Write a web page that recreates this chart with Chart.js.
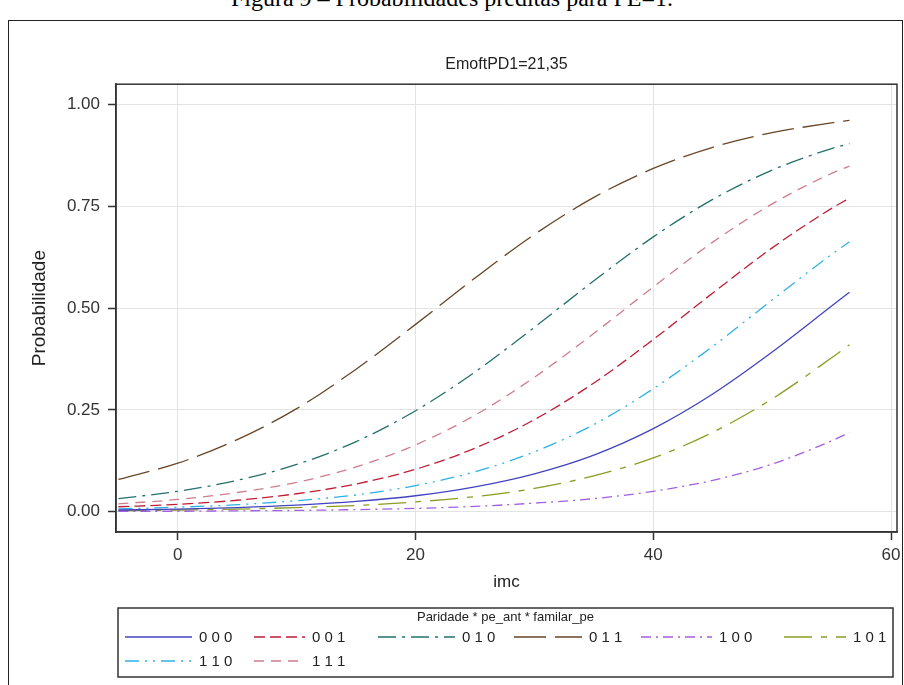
<!DOCTYPE html>
<html>
<head>
<meta charset="utf-8">
<script src="https://cdn.jsdelivr.net/npm/chart.js@4"></script>
<style>
  html, body { margin: 0; padding: 0; background: #fff; width: 904px; height: 685px; overflow: hidden; }
  #caption { position: absolute; left: 0; top: -14px; width: 904px; text-align: center;
             font-family: "Liberation Serif", "DejaVu Serif", serif; font-size: 24px; line-height: 24px;
             color: #000; white-space: nowrap; }
  #frame { position: absolute; left: 8px; top: 20px; width: 895px; height: 720px;
           border: 1.5px solid #222; box-sizing: border-box; }
  #wrap { position: absolute; left: 0; top: 0; width: 904px; height: 685px; }
</style>
</head>
<body>
<div id="caption">Figura 9 – Probabilidades preditas para PE=1.</div>
<div id="frame"></div>
<div id="wrap"><canvas id="c" width="904" height="685"></canvas></div>
<script>
// imc values at which the predicted probabilities are plotted
const imc = [-5, 0, 5, 10, 15, 20, 25, 30, 35, 40, 45, 50, 55, 56.5];

// Predicted probability per group (Paridade pe_ant familar_pe)
const p000 = [0.004, 0.006, 0.010, 0.016, 0.025, 0.039, 0.061, 0.093, 0.139, 0.204, 0.289, 0.392, 0.505, 0.539];
const p001 = [0.012, 0.018, 0.028, 0.044, 0.068, 0.104, 0.156, 0.226, 0.316, 0.423, 0.537, 0.648, 0.745, 0.770];
const p010 = [0.032, 0.050, 0.077, 0.116, 0.172, 0.248, 0.343, 0.453, 0.567, 0.675, 0.767, 0.839, 0.892, 0.904];
const p011 = [0.079, 0.119, 0.177, 0.253, 0.350, 0.460, 0.574, 0.681, 0.772, 0.843, 0.895, 0.931, 0.955, 0.961];
const p100 = [0.001, 0.001, 0.002, 0.003, 0.005, 0.008, 0.013, 0.021, 0.032, 0.050, 0.077, 0.117, 0.174, 0.194];
const p101 = [0.002, 0.004, 0.006, 0.010, 0.015, 0.024, 0.037, 0.057, 0.088, 0.132, 0.195, 0.277, 0.378, 0.410];
const p110 = [0.007, 0.011, 0.017, 0.027, 0.041, 0.064, 0.098, 0.147, 0.214, 0.302, 0.406, 0.520, 0.632, 0.663];
const p111 = [0.019, 0.030, 0.047, 0.072, 0.110, 0.164, 0.237, 0.330, 0.438, 0.552, 0.662, 0.756, 0.831, 0.849];

const groupLabels = ['0 0 0', '0 0 1', '0 1 0', '0 1 1', '1 0 0', '1 0 1', '1 1 0', '1 1 1'];
const groupValues = [p000, p001, p010, p011, p100, p101, p110, p111];

const xTicks = [0, 20, 40, 60];
const yTicks = [0, 0.25, 0.5, 0.75, 1];

const styles = [
  { color: '#4343c0', dash: [] },
  { color: '#bf1e36', dash: [11, 5] },
  { color: '#23706c', dash: [18, 6, 3, 6] },
  { color: '#674626', dash: [32, 9] },
  { color: '#a25fe0', dash: [10, 5, 2, 5] },
  { color: '#8c9c22', dash: [28, 9, 6, 9] },
  { color: '#2fb0e6', dash: [14, 6, 2, 6, 2, 6] },
  { color: '#cf7d8d', dash: [10, 7] }
];

const FONT = '"Liberation Sans", Arial, sans-serif';

const datasets = groupLabels.map((lab, k) => ({
  label: lab,
  data: imc.map((x, i) => ({ x: x, y: groupValues[k][i] })),
  borderColor: styles[k].color,
  borderDash: styles[k].dash,
  borderWidth: 1.3,
  pointRadius: 0,
  fill: false,
  cubicInterpolationMode: 'monotone'
}));

// Closed frame around the plotting area
const framePlugin = {
  id: 'frame',
  afterDatasetsDraw(chart) {
    const { ctx, chartArea: a } = chart;
    ctx.save();
    ctx.strokeStyle = '#333';
    ctx.lineWidth = 1.5;
    ctx.setLineDash([]);
    ctx.strokeRect(a.left, a.top, a.right - a.left, a.bottom - a.top);
    ctx.restore();
  }
};

// Boxed legend with a title and line samples below the x axis
const boxLegend = {
  id: 'boxLegend',
  afterDraw(chart) {
    const { ctx, chartArea: a } = chart;
    const left = a.left + 2, right = a.right - 4;
    const top = a.bottom + 76, bottom = a.bottom + 145;
    ctx.save();
    ctx.setLineDash([]);
    ctx.strokeStyle = '#333';
    ctx.lineWidth = 1.5;
    ctx.strokeRect(left, top, right - left, bottom - top);

    ctx.fillStyle = '#222';
    ctx.font = '13px ' + FONT;
    ctx.textBaseline = 'middle';
    ctx.textAlign = 'center';
    ctx.fillText('Paridade * pe_ant * familar_pe', (left + right) / 2, top + 9);

    const starts = [7, 136, 260, 396, 523, 666];
    const texts = [81, 194, 344, 471, 601, 735];
    ctx.font = '15px ' + FONT;
    ctx.textAlign = 'left';
    chart.data.datasets.forEach((ds, k) => {
      const row = Math.floor(k / 6), col = k % 6;
      const y = top + 29 + row * 24;
      const x0 = left + starts[col], xt = left + texts[col];
      ctx.strokeStyle = ds.borderColor;
      ctx.lineWidth = 1.4;
      ctx.setLineDash(ds.borderDash);
      ctx.beginPath();
      ctx.moveTo(x0, y);
      ctx.lineTo(xt - 7, y);
      ctx.stroke();
      ctx.setLineDash([]);
      ctx.fillStyle = '#222';
      ctx.fillText(ds.label, xt, y + 1);
    });
    ctx.restore();
  }
};

new Chart(document.getElementById('c'), {
  type: 'line',
  data: { datasets: datasets },
  plugins: [framePlugin, boxLegend],
  options: {
    responsive: false,
    animation: false,
    layout: { padding: { left: 0, right: 7, top: 0, bottom: 83 } },
    plugins: {
      legend: { display: false },
      tooltip: { enabled: false },
      title: {
        display: true,
        fullSize: false,
        text: 'EmoftPD1=21,35',
        color: '#222',
        font: { family: FONT, size: 16, weight: 'normal' },
        padding: { top: 55, bottom: 10 }
      }
    },
    scales: {
      x: {
        type: 'linear',
        min: -5.2,
        max: 60.5,
        afterBuildTicks(axis) { axis.ticks = xTicks.map(v => ({ value: v })); },
        afterFit(axis) { axis.height = 70; axis.paddingLeft = 0; axis.paddingRight = 0; },
        grid: { color: '#e3e3e3', lineWidth: 1, tickLength: 8, tickColor: '#333', tickWidth: 1.5 },
        border: { color: '#333', width: 1.5 },
        ticks: { color: '#333', font: { family: FONT, size: 17 }, padding: 5, maxRotation: 0 },
        title: { display: true, text: 'imc', color: '#222', font: { family: FONT, size: 17 }, padding: { top: 0, bottom: 9 } }
      },
      y: {
        min: -0.05,
        max: 1.05,
        afterBuildTicks(axis) { axis.ticks = yTicks.map(v => ({ value: v })); },
        afterFit(axis) { axis.width = 116; axis.paddingTop = 0; axis.paddingBottom = 0; },
        grid: { color: '#e3e3e3', lineWidth: 1, tickLength: 8, tickColor: '#333', tickWidth: 1.5 },
        border: { color: '#333', width: 1.5 },
        ticks: { color: '#333', font: { family: FONT, size: 17 }, padding: 8, callback: v => v.toFixed(2) },
        title: { display: true, text: 'Probabilidade', color: '#222', font: { family: FONT, size: 19 }, padding: { top: 28, bottom: 0 } }
      }
    }
  }
});
</script>
</body>
</html>
